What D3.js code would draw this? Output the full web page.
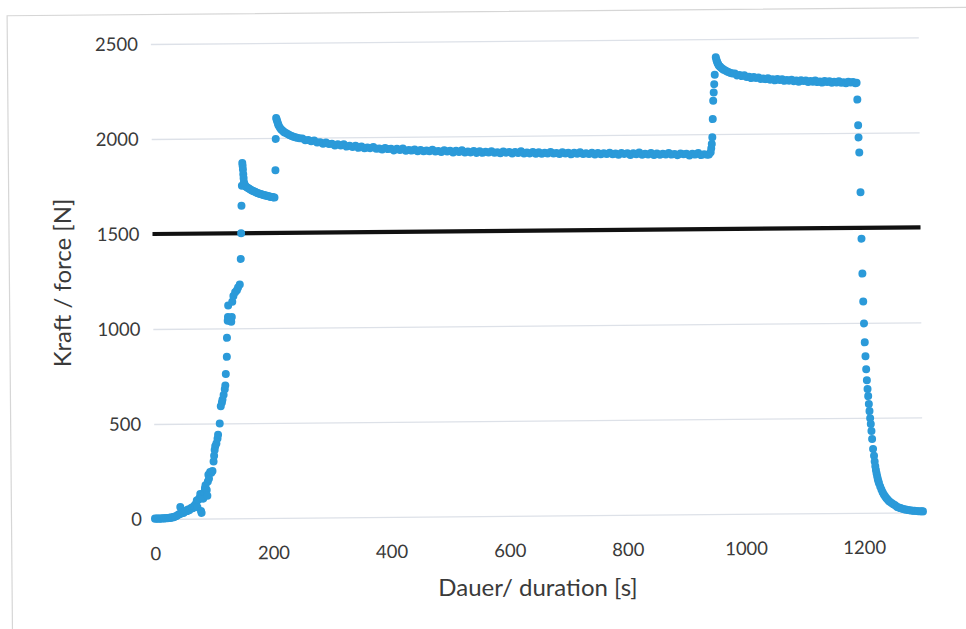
<!DOCTYPE html>
<html><head><meta charset="utf-8">
<script src="https://cdn.jsdelivr.net/npm/d3@7"></script>
<style>
html,body{margin:0;padding:0;background:#fff;}
svg{display:block;}
</style></head><body>
<svg id="chart" width="966" height="629"></svg>
<script>
// ---- data (time in s, force in N) ----
const xTicks = [0,200,400,600,800,1000,1200];
const yTicks = [0,500,1000,1500,2000,2500];
const thresholdTime = [0,1300];
const thresholdForce = [1500,1500];

const rampTime = [0,2,4,6,8,10,12,14,16,18,20,22,24,26,28,30,32,34,36,38,40,42,43,44,46,48,50,52,54,56,58,60,62,64,66,68,70,71,72,74,76,77,78,79,80,82,84,85,86,88,89,90,91,92,94,96,98,100,101,102,103,
  105,107,108,111,113,115,116,118,120,121,122,124,124.5,126,126.5,127,128,130,132,133,134,136,139,142,144,147,149];
const rampForce = [2,1,3,2,1,3,2,4,2,3,5,4,6,5,8,7,10,12,14,18,22,25,62,28,32,30,36,42,40,48,45,52,58,55,65,72,80,95,60,100,110,130,40,30,120,105,140,160,175,150,120,195,230,210,245,240,250,300,330,360,380,
  395,420,440,500,590,610,625,650,680,700,760,850,950,1040,1060,1120,1050,1040,1035,1060,1140,1170,1190,1200,1215,1230,1365];

const peak1Time = [150,151,152,153,153.5,154,154.5,155,155.5,156.5,157.5,159,161,163,165,167,169,171,173,175,177,179,181,183,185,187,189,191,193,195,197,199,201,203,205,207];
const peak1Force = [1500,1645,1750,1870,1855,1835,1810,1790,1770,1758,1750,1745,1740,1736,1732,1728,1725,1722,1719,1716,1713,1710,1708,1706,1704,1702,1700,1698,1697,1695,1693,1692,1690,1689,1688,1686];

const holdTime = [209,210,211,212,213,214,215,217,219,221,223,225,228,231,234,237,240,243,246,250,
  255,260,265,270,275,280,285,290,295,300,
  305,310,315,320,325,330,335,340,345,350,
  355,360,365,370,375,380,385,390,395,400,
  405,410,415,420,425,430,435,440,445,450,
  455,460,465,470,475,480,485,490,495,500,
  505,510,515,520,525,530,535,540,545,550,
  555,560,565,570,575,580,585,590,595,600,
  605,610,615,620,625,630,635,640,645,650,
  655,660,665,670,675,680,685,690,695,700,
  705,710,715,720,725,730,735,740,745,750,
  755,760,765,770,775,780,785,790,795,800,
  805,810,815,820,825,830,835,840,845,850,
  855,860,865,870,875,880,885,890,895,900,
  905,910,915,920,925,930,935,940,943];
const holdForce = [1830,1995,2105,2095,2085,2075,2066,2055,2046,2040,2034,2029,2024,2019,2014,2010,2006,2003,2000,1997,
  1996,1986,1987,1981,1985,1974,1975,1967,1974,1966,
  1967,1957,1964,1957,1963,1951,1955,1949,1955,1944,
  1951,1942,1946,1942,1948,1938,1940,1934,1942,1936,
  1938,1929,1937,1931,1938,1927,1931,1927,1933,1923,
  1930,1923,1927,1923,1930,1921,1924,1918,1927,1921,
  1924,1915,1924,1918,1926,1915,1920,1915,1922,1912,
  1920,1912,1917,1914,1920,1912,1915,1909,1918,1912,
  1915,1907,1915,1910,1918,1907,1912,1907,1914,1905,
  1912,1905,1910,1906,1913,1905,1908,1902,1911,1905,
  1908,1900,1908,1903,1911,1901,1905,1901,1908,1898,
  1906,1899,1904,1900,1907,1899,1902,1896,1905,1900,
  1903,1894,1903,1898,1906,1895,1900,1896,1903,1893,
  1901,1894,1899,1895,1902,1894,1897,1891,1900,1895,
  1898,1889,1898,1893,1901,1890,1895,1892,1893];

const peak2Time = [946,947,948,949,950,951,952,953,954,
  956,957,958,959,960,961,963,965,967,969,972,975,978,981,984,
  988,992,996,1000,1004,1008,1012,1016,1020,1024,
  1028,1032,1036,1040,1044,1048,1052,1056,1060,1064,
  1068,1072,1076,1080,1084,1088,1092,1096,1100,1104,
  1108,1112,1116,1120,1124,1128,1132,1136,1140,1144,
  1148,1152,1156,1160,1164,1168,1172,1176,1180,1184,
  1188,1192,1194];
const peak2Force = [1905,1925,1948,1983,2079,2176,2219,2263,2312,
  2405,2392,2382,2374,2367,2361,2355,2349,2344,2339,2334,2329,2325,2321,2318,
  2318,2308,2310,2304,2308,2299,2300,2293,2299,2294,
  2296,2288,2291,2287,2292,2284,2286,2280,2287,2282,
  2285,2277,2281,2278,2283,2275,2278,2272,2279,2275,
  2278,2270,2275,2271,2277,2269,2272,2266,2274,2269,
  2273,2265,2270,2266,2272,2264,2267,2262,2269,2265,
  2268,2261,2264];

const releaseTime = [1195,1196,1196.5,1197.5,1199,1200,1201,1202,1203,1204,1205,1206,1207,1208,1209,1210,1211,1212,1213,1214,1215,1216.5,
  1218,1219,1220,1221,1222,1223,1224,1225,1226,1228,1230,1232,1234,1236,1238,1240,1242,1244,
  1247,1250,1253,1256,1259,1262,1265,1268,1271,1274,1277,1280,1283,1286,1289,1292,1295,1298,1300];
const releaseForce = [2175,2040,1976,1897,1687,1443,1259,1112,997,897,824,755,698,651,614,572,535,498,467,430,388,336,
  300,270,245,225,208,192,178,166,155,138,122,108,96,86,77,70,63,57,
  50,44,39,30,26,23,20,17,15,13,11,10,9,8,7,6,6,5,5];

// ---- chart ----
const svg = d3.select('#chart');
const FONT = 'Lato, "Open Sans", sans-serif';
const x = d3.scaleLinear().domain([0,1300]).range([155,923]);
const y = d3.scaleLinear().domain([0,2500]).range([519,44]);

svg.append('rect').attr('width',966).attr('height',629).attr('fill','#fff');

const g = svg.append('g').attr('transform','rotate(-0.5,155,519)');

// chart border
g.append('path').attr('d','M11.5,1000V14.5H1100').attr('fill','none').attr('stroke','#d6d6d6').attr('stroke-width',1.2);

// y axis with gridlines
const yAxis = g.append('g').attr('transform','translate(155,0)')
  .call(d3.axisLeft(y).tickValues(yTicks).tickSize(-(923-155)).tickPadding(13).tickFormat(d3.format('d')));
yAxis.select('.domain').remove();
yAxis.selectAll('.tick line').attr('stroke','#dde1e8').attr('stroke-width',1.3);
yAxis.selectAll('.tick text').attr('font-family',FONT).attr('font-size',18.5).attr('fill','#3a3a3a');

// x axis labels
const xAxis = g.append('g').attr('transform','translate(0,519)')
  .call(d3.axisBottom(x).tickValues(xTicks).tickSize(0).tickPadding(28).tickFormat(d3.format('d')));
xAxis.select('.domain').remove();
xAxis.selectAll('.tick text').attr('font-family',FONT).attr('font-size',18.5).attr('fill','#3a3a3a');

// threshold line
const thrData = thresholdTime.map((t,i)=>({t, f: thresholdForce[i]}));
g.append('path').datum(thrData)
  .attr('d', d3.line().x(d=>x(d.t)).y(d=>y(d.f)))
  .attr('stroke','#111').attr('stroke-width',4.2).attr('fill','none');

// scatter points
const segments = [[rampTime,rampForce],[peak1Time,peak1Force],[holdTime,holdForce],[peak2Time,peak2Force],[releaseTime,releaseForce]];
const pts = [];
segments.forEach(([ts,fs]) => ts.forEach((t,i)=>pts.push({t, f: fs[i]})));
g.append('g').selectAll('circle').data(pts).join('circle')
  .attr('cx', d=>x(d.t)).attr('cy', d=>y(d.f)).attr('r',4)
  .attr('fill','#2b9ad9');

// axis titles
svg.append('text').attr('x',538).attr('y',596).attr('text-anchor','middle')
  .attr('font-family',FONT).attr('font-size',24).attr('fill','#3a3a3a').text('Dauer/ duration [s]');
svg.append('text').attr('transform','translate(71,283) rotate(-90)').attr('text-anchor','middle')
  .attr('font-family',FONT).attr('font-size',24).attr('fill','#3a3a3a').text('Kraft / force [N]');
</script>
</body></html>
